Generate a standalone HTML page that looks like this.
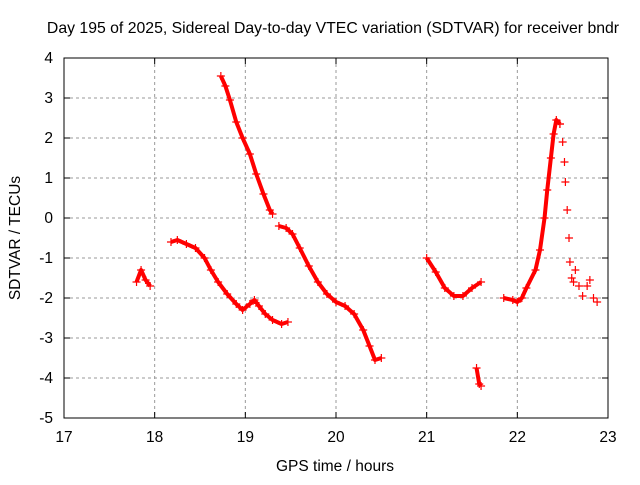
<!DOCTYPE html>
<html><head><meta charset="utf-8"><style>
body{margin:0;background:#fff}
svg text{font-family:"Liberation Sans",sans-serif;font-size:15.5px;fill:#000}
</style></head><body>
<svg id="chart" width="640" height="480">
<text x="333" y="33" text-anchor="middle" style="font-size:15.8px">Day 195 of 2025, Sidereal Day-to-day VTEC variation (SDTVAR) for receiver bndr</text>
<text x="335" y="471" text-anchor="middle">GPS time / hours</text>
<text transform="translate(20,238) rotate(-90)" text-anchor="middle">SDTVAR / TECUs</text>
<g id="grid"></g><g id="marks"></g>
<rect x="64" y="58" width="544" height="360" fill="none" stroke="#000"/>
</svg>
<script>
const xTicks=[17,18,19,20,21,22,23];
const yTicks=[-5,-4,-3,-2,-1,0,1,2,3,4];
const segA=[[17.8,-1.6],[17.85,-1.3],[17.9,-1.55],[17.95,-1.7]];
const segB=[[18.18,-0.6],[18.25,-0.55],[18.35,-0.65],[18.45,-0.75],[18.55,-1.0],[18.62,-1.3],[18.7,-1.6],[18.8,-1.9],[18.9,-2.15],[18.97,-2.3],[19.05,-2.15],[19.1,-2.05],[19.15,-2.2],[19.22,-2.4],[19.3,-2.55],[19.4,-2.65],[19.47,-2.6]];
const segC=[[18.73,3.55],[18.78,3.3],[18.83,2.95],[18.9,2.4],[18.97,2.0],[19.05,1.6],[19.12,1.1],[19.2,0.6],[19.27,0.2],[19.3,0.1]];
const segD=[[19.37,-0.2],[19.45,-0.25],[19.52,-0.4],[19.6,-0.75],[19.7,-1.2],[19.8,-1.6],[19.9,-1.9],[20.0,-2.1],[20.1,-2.2],[20.2,-2.4],[20.3,-2.8],[20.37,-3.2],[20.43,-3.55],[20.5,-3.5]];
const segE=[[21.0,-1.0],[21.1,-1.35],[21.2,-1.75],[21.3,-1.95],[21.4,-1.95],[21.5,-1.75],[21.6,-1.6]];
const segF=[[21.55,-3.75],[21.58,-4.15],[21.6,-4.2]];
const segG=[[21.85,-2.0],[21.95,-2.05],[22.0,-2.1],[22.05,-2.0],[22.1,-1.75],[22.2,-1.3],[22.25,-0.8],[22.3,0.0],[22.33,0.7],[22.37,1.5],[22.4,2.1],[22.43,2.45],[22.47,2.35]];
const segH=[[22.47,2.35],[22.5,1.9],[22.52,1.4],[22.53,0.9],[22.55,0.2],[22.57,-0.5],[22.58,-1.1],[22.6,-1.5],[22.62,-1.6],[22.64,-1.3],[22.68,-1.7],[22.72,-1.95],[22.77,-1.7],[22.8,-1.55],[22.84,-2.0],[22.88,-2.1]];
const segments=[segA,segB,segC,segD,segE,segF,segG];
const sx=h=>64+(h-17)*544/6, sy=v=>418-(v+5)*40;
const NS='http://www.w3.org/2000/svg';
const g=document.getElementById('grid'), m=document.getElementById('marks');
function mk(tag,attrs,parent){const e=document.createElementNS(NS,tag);for(const k in attrs)e.setAttribute(k,attrs[k]);parent.appendChild(e);return e;}
xTicks.forEach(t=>{const x=sx(t);
 if(t>17&&t<23){const l=mk('line',{x1:x,x2:x,y1:58,y2:418,stroke:'#999','stroke-dasharray':'3,3'},g);}
 mk('line',{x1:x,x2:x,y1:418,y2:412,stroke:'#000'},g);mk('line',{x1:x,x2:x,y1:58,y2:64,stroke:'#000'},g);
 const tx=mk('text',{x:x,y:442,'text-anchor':'middle'},g);tx.textContent=t;
 });
yTicks.forEach(t=>{const y=sy(t);
 if(t>-5&&t<4){const l=mk('line',{x1:64,x2:608,y1:y,y2:y,stroke:'#999','stroke-dasharray':'3,3'},g);}
 mk('line',{x1:64,x2:70,y1:y,y2:y,stroke:'#000'},g);mk('line',{x1:608,x2:602,y1:y,y2:y,stroke:'#000'},g);
 const tx=mk('text',{x:53,y:y+5,'text-anchor':'end'},g);tx.textContent=t;
 });
function plus(x,y,parent){const p=mk('path',{d:`M${x-4} ${y}h8M${x} ${y-4}v8`,stroke:'#f00','stroke-width':1.2},parent);return p;}
segments.forEach(s=>{
 const pl=mk('polyline',{points:s.map(p=>sx(p[0])+','+sy(p[1])).join(' '),fill:'none',stroke:'#f00','stroke-width':4,'stroke-linejoin':'round'},m);
 
 s.forEach(p=>{const e=plus(sx(p[0]),sy(p[1]),m);});
});
segH.forEach(p=>{const e=plus(sx(p[0]),sy(p[1]),m);});
</script>
</body></html>
